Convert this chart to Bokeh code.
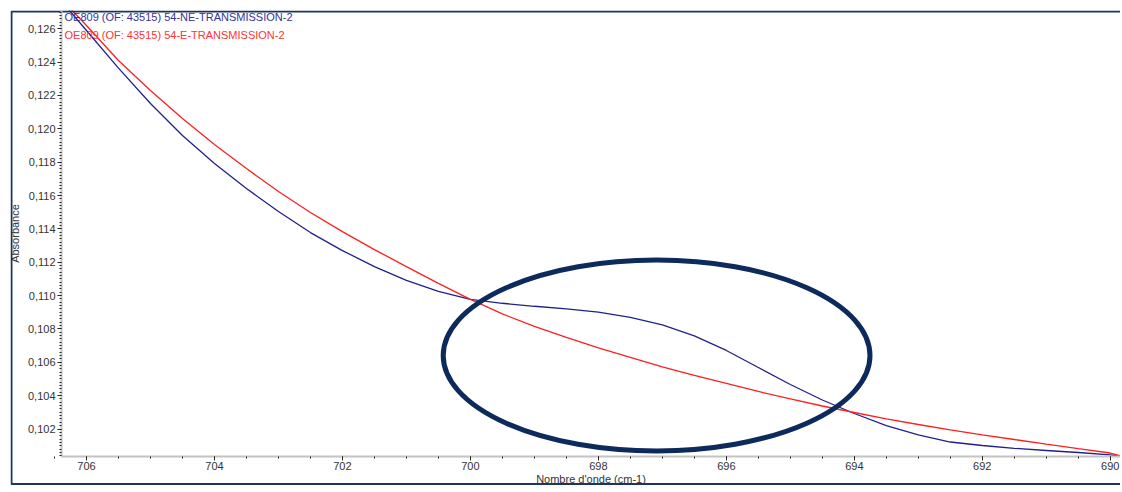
import numpy as np
from bokeh.plotting import figure
from bokeh.models import Range1d, FixedTicker, CustomJSTickFormatter, Label
from bokeh.embed import file_html
from bokeh.resources import INLINE

# ---- data ----
wavenumber = [706.4, 706.0, 705.5, 705.0, 704.5, 704.0, 703.5, 703.0, 702.5, 702.0,
              701.5, 701.0, 700.5, 700.0, 699.5, 699.0, 698.5, 698.0, 697.5, 697.0,
              696.5, 696.0, 695.5, 695.0, 694.5, 694.0, 693.5, 693.0, 692.5, 692.0,
              691.5, 691.0, 690.5, 690.0, 689.85]
absorb_ne = [0.12770, 0.12590, 0.12364, 0.12152, 0.11960, 0.11792, 0.11642, 0.11504, 0.11378, 0.11270,
             0.11174, 0.11091, 0.11025, 0.10977, 0.10954, 0.10936, 0.10921, 0.10901, 0.10870, 0.10824,
             0.10758, 0.10671, 0.10569, 0.10467, 0.10374, 0.10293, 0.10220, 0.10165, 0.10122, 0.10101,
             0.10084, 0.10071, 0.10059, 0.10045, 0.10038]
absorb_e = [0.12780, 0.12620, 0.12410, 0.12230, 0.12062, 0.11906, 0.11762, 0.11624, 0.11498, 0.11384,
            0.11276, 0.11174, 0.11073, 0.10977, 0.10890, 0.10815, 0.10749, 0.10686, 0.10629, 0.10572,
            0.10521, 0.10473, 0.10425, 0.10380, 0.10338, 0.10299, 0.10261, 0.10227, 0.10195, 0.10165,
            0.10137, 0.10109, 0.10082, 0.10056, 0.10041]
series_names = ["OE809 (OF: 43515) 54-NE-TRANSMISSION-2",
                "OE809 (OF: 43515) 54-E-TRANSMISSION-2"]
x_ticks = [706, 704, 702, 700, 698, 696, 694, 692, 690]
y_ticks = [0.102, 0.104, 0.106, 0.108, 0.110, 0.112, 0.114, 0.116, 0.118, 0.120, 0.122, 0.124, 0.126]
x_title = "Nombre d'onde (cm-1)"
y_title = "Absorbance"

# axis extents inside the framed area
x_axis_start, x_axis_end = 706.39, 689.84
y_axis_start, y_axis_end = 0.10035, 0.1275

# highlight ellipse (data coordinates)
ellipse_x, ellipse_y = 697.09, 0.10641
ellipse_w, ellipse_h = 6.67, 0.01145

# outer panel border (open on the right, like the cropped reference)
border_left, border_right = 707.172, 689.0
border_top, border_bottom = 0.127037, 0.098702

# ---- styling ----
BLUE = "#21218c"
RED = "#ff1f1f"
NAVY = "#0d2a5c"
BORDER = "#1c3461"
FONT = "Liberation Sans"

W, H = 1120, 486
ML, MR, MT, MB = 10, 0, 10, 1
FW, FH = W - ML - MR, H - MT - MB

p = figure(width=W, height=H, output_backend="svg", toolbar_location=None,
           x_range=Range1d(707.1875, 689.84), y_range=Range1d(0.098612, 0.127097),
           min_border_left=ML, min_border_right=MR, min_border_top=MT, min_border_bottom=MB)
p.outline_line_color = None
p.xgrid.visible = False
p.ygrid.visible = False
p.background_fill_color = "white"
p.border_fill_color = "white"

p.line(wavenumber, absorb_ne, line_color=BLUE, line_width=1.3)
p.line(wavenumber, absorb_e, line_color=RED, line_width=1.3)

p.ellipse(x=[ellipse_x], y=[ellipse_y], width=ellipse_w, height=ellipse_h,
          fill_alpha=0, line_color=NAVY, line_width=5)

p.line([border_right, border_left, border_left, border_right],
       [border_top, border_top, border_bottom, border_bottom],
       line_color=BORDER, line_width=2)

# axes drawn inside the bordered area
xa = p.xaxis[0]
xa.fixed_location = y_axis_start
xa.bounds = (x_axis_end, x_axis_start)
xa.ticker = FixedTicker(ticks=x_ticks, minor_ticks=list(np.arange(689.5, 707.0, 0.5)))
ya = p.yaxis[0]
ya.fixed_location = x_axis_start
ya.bounds = (y_axis_start, y_axis_end)
ya.ticker = FixedTicker(ticks=y_ticks, minor_ticks=list(np.round(np.arange(0.1004, 0.1272, 0.0002), 4)))
ya.formatter = CustomJSTickFormatter(code="return tick.toFixed(3).replace('.', ',');")

for ax in (xa, ya):
    ax.axis_line_color = "#c4c4c4"
    ax.axis_line_width = 2
    ax.major_tick_line_color = "#222222"
    ax.major_tick_out = 4
    ax.major_tick_in = 0
    ax.minor_tick_line_color = "#222222"
    ax.minor_tick_out = 2
    ax.minor_tick_in = 0
    ax.major_label_text_font = FONT
    ax.major_label_text_font_size = "11px"
    ax.major_label_text_color = "#333333"
    ax.axis_label_text_font = FONT
    ax.axis_label_text_font_size = "11px"
    ax.axis_label_text_font_style = "normal"
    ax.axis_label_text_color = "#333333"

xa.major_label_standoff = 1
xa.axis_label = x_title
xa.axis_label_standoff = 0
ya.major_label_standoff = 2
ya.axis_label = y_title
ya.axis_label_standoff = 4

# legend texts
p.add_layout(Label(x=54, y=FH - 6, x_units="screen", y_units="screen", text=series_names[0],
                   text_color="#33339a", text_font=FONT, text_font_size="11px",
                   text_baseline="middle"))
p.add_layout(Label(x=54, y=FH - 24, x_units="screen", y_units="screen", text=series_names[1],
                   text_color="#ff3333", text_font=FONT, text_font_size="11px",
                   text_baseline="middle"))

open("out.html", "w").write(file_html(p, INLINE))
